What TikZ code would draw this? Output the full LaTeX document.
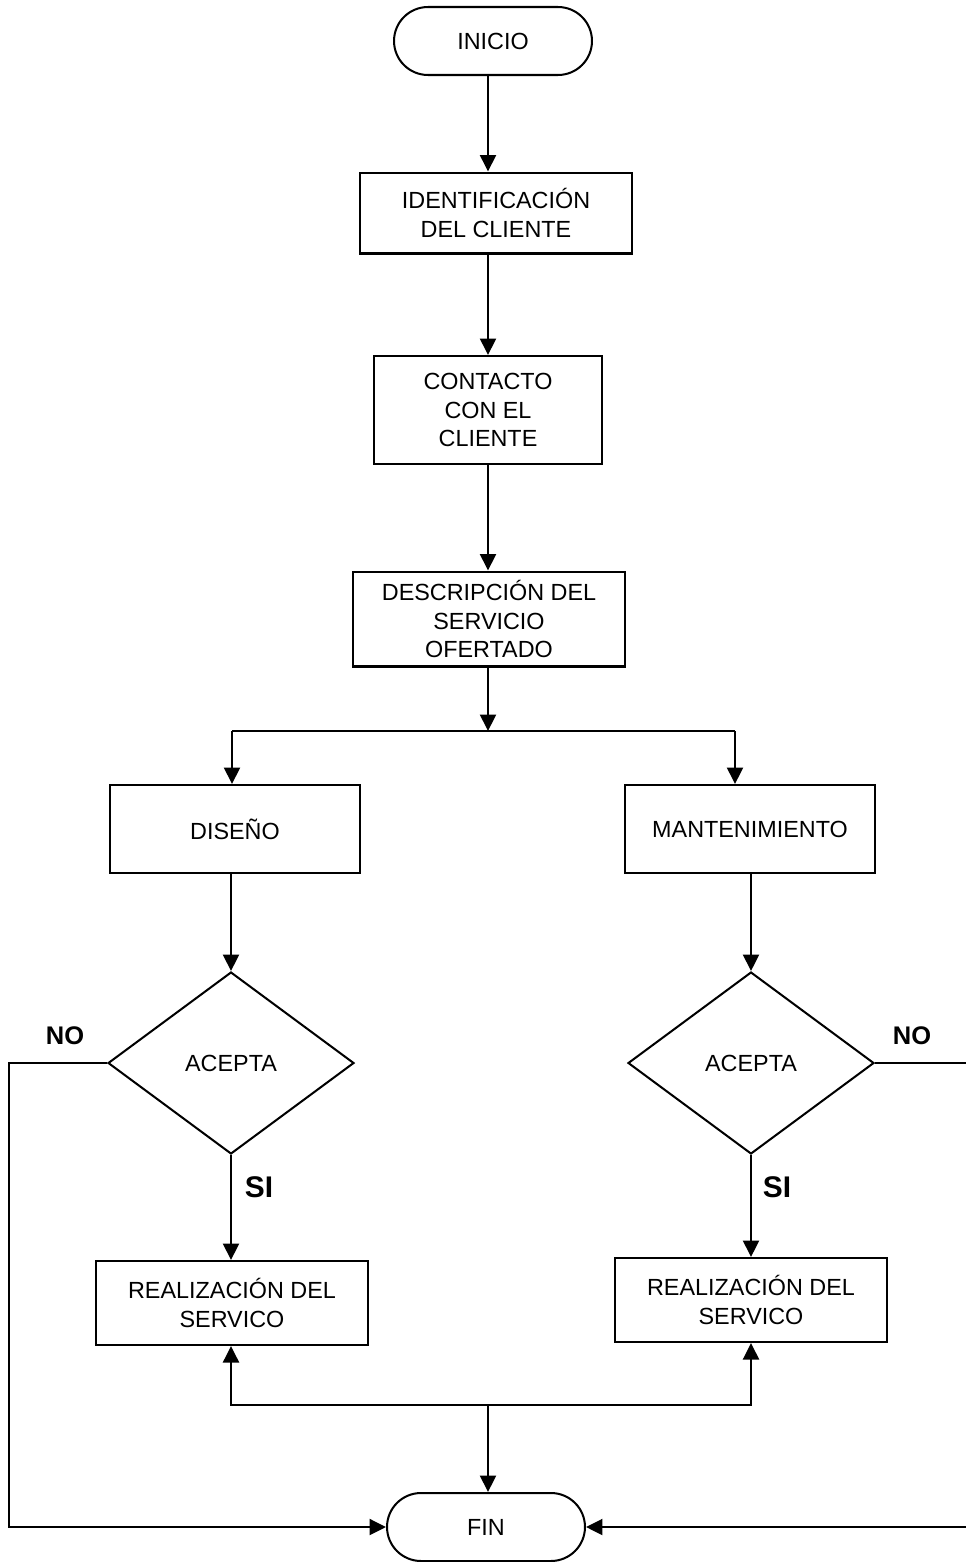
\documentclass[tikz,border=0pt]{standalone}
\usepackage{fontspec}
\setmainfont{Liberation Sans}
\usetikzlibrary{arrows.meta,shapes.geometric}

\begin{document}
\begin{tikzpicture}[x=0.02cm,y=-0.02cm,line width=1.15pt,
    every node/.style={font=\fontsize{13.3}{16}\selectfont},
    caja/.style={draw,rectangle,align=center,inner sep=0pt},
    terminal/.style={draw,rectangle,rounded corners=0.68cm,minimum width=3.96cm,minimum height=1.36cm},
    decision/.style={draw,diamond,inner sep=0pt,minimum width=4.92cm,minimum height=3.64cm},
    resp/.style={font=\fontsize{14.5}{17}\selectfont\bfseries},
    flecha/.style={-{Triangle[length=0.33cm,width=0.32cm]}}]
      \useasboundingbox (0,0) rectangle (966,1562);

      \node [terminal] (inicio) at (493,41) {INICIO};
      \node [caja,minimum width=5.46cm,minimum height=1.62cm] (ident) at (496,213) {IDENTIFICACIÓN\\DEL CLIENTE};
      \node [caja,minimum width=4.56cm,minimum height=2.16cm] (contacto) at (488,410) {CONTACTO\\CON EL\\CLIENTE};
      \node [caja,minimum width=5.44cm,minimum height=1.9cm] (desc) at (489,619) {DESCRIPCIÓN DEL\\SERVICIO\\OFERTADO};

      \node [caja,minimum width=5cm,minimum height=1.76cm] (diseno) at (235,829) {DISEÑO};
      \node [caja,minimum width=5.02cm,minimum height=1.76cm] (mant) at (750,829) {MANTENIMIENTO};

      \node [decision] (aceptaL) at (231,1063) {ACEPTA};
      \node [decision] (aceptaR) at (751,1063) {ACEPTA};

      \node [caja,minimum width=5.44cm,minimum height=1.68cm] (realizL) at (232,1303) {REALIZACIÓN DEL\\SERVICO};
      \node [caja,minimum width=5.46cm,minimum height=1.68cm] (realizR) at (751,1300) {REALIZACIÓN DEL\\SERVICO};

      \node [terminal] (fin) at (486,1527) {FIN};

      \node [resp] (noL) at (65,1036) {NO};
      \node [resp] (noR) at (912,1036) {NO};
      \node [resp,font=\fontsize{17}{20}\selectfont\bfseries] (siL) at (259,1187) {SI};
      \node [resp,font=\fontsize{17}{20}\selectfont\bfseries] (siR) at (777,1187) {SI};

      \coordinate (splitL) at (232,731);
      \coordinate (splitR) at (735,731);
      \coordinate (junta) at (488,1405);
      \coordinate (esqL) at (9,1063);
      \coordinate (esqR) at (972,1063);

      \draw [flecha] (inicio.south -| contacto) -- (ident.north -| contacto);
      \draw [flecha] (ident.south -| contacto) -- (contacto.north);
      \draw [flecha] (contacto.south) -- (contacto.south |- desc.north);
      \draw [flecha] (desc.south -| contacto) -- (contacto |- splitL);
      \draw (splitL) -- (splitR);
      \draw [flecha] (splitL) -- (splitL |- diseno.north);
      \draw [flecha] (splitR) -- (splitR |- mant.north);

      \draw [flecha] (aceptaL |- diseno.south) -- (aceptaL.north);
      \draw [flecha] (aceptaR |- mant.south) -- (aceptaR.north);
      \draw [flecha] (aceptaL.south) -- (aceptaL.south |- realizL.north);
      \draw [flecha] (aceptaR.south) -- (aceptaR.south |- realizR.north);

      \draw [flecha] (junta) -- (junta |- fin.north);
      \draw [flecha] (junta) -| (aceptaL.south |- realizL.south);
      \draw [flecha] (junta) -| (aceptaR.south |- realizR.south);

      \draw [flecha] (aceptaL.west) -- (esqL) |- (fin.west);
      \draw [flecha] (aceptaR.east) -- (esqR) |- (fin.east);

    \end{tikzpicture}
\end{document}
